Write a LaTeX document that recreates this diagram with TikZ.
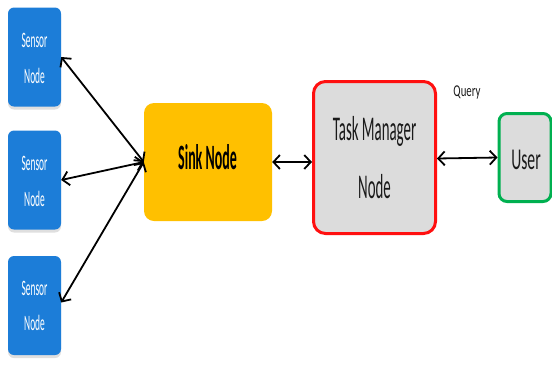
\documentclass[tikz,border=0pt]{standalone}
\usepackage{fontspec}
\setmainfont{Carlito}
\usetikzlibrary{arrows.meta,shadows}
\definecolor{sensorblue}{HTML}{1C7DD8}
\definecolor{sinkgold}{HTML}{FFC000}
\definecolor{boxgray}{HTML}{DCDCDC}
\definecolor{tmred}{HTML}{FF1010}
\definecolor{usergreen}{HTML}{00B050}
\definecolor{txtdark}{HTML}{1A1A1A}
\newcommand{\sq}[3]{\scalebox{#1}[#2]{#3}}
\begin{document}
\begin{tikzpicture}[x=1pt,y=-1pt,
  sensorbox/.style={draw=none,fill=sensorblue,rounded corners=6pt,minimum width=53pt,minimum height=99pt,inner sep=0pt,
    drop shadow={opacity=0.25,shadow xshift=0pt,shadow yshift=-3pt}},
  sinkbox/.style={fill=sinkgold,rounded corners=10pt,minimum width=128pt,minimum height=118pt,inner sep=0pt},
  tmbox/.style={fill=boxgray,draw=tmred,line width=3pt,rounded corners=12pt,minimum width=122pt,minimum height=152pt,inner sep=0pt},
  userbox/.style={fill=boxgray,draw=usergreen,line width=3pt,rounded corners=8pt,minimum width=52pt,minimum height=88pt,inner sep=0pt},
  sensortxt/.style={text=white,font=\fontsize{20}{24}\selectfont},
  bigtxt/.style={text=txtdark,font=\fontsize{31}{36}\selectfont},
  link/.style={line width=1.8pt,{Straight Barb[length=6.5pt,width=14pt]}-{Straight Barb[length=6.5pt,width=14pt]}}
]
\useasboundingbox (0,0) rectangle (552,368);
% sensor nodes
\node[sensorbox] (s1) at (34.5,57) {};
\node[sensorbox] (s2) at (34.5,180) {};
\node[sensorbox] (s3) at (34.5,305.5) {};
\node[sensortxt] (s1a) at (34.5,40) {\sq{0.47}{1.1}{Sensor}};
\node[sensortxt] (s1b) at (34.5,76) {\sq{0.47}{1.1}{Node}};
\node[sensortxt] (s2a) at (34.5,163) {\sq{0.47}{1.1}{Sensor}};
\node[sensortxt] (s2b) at (34.5,199) {\sq{0.47}{1.1}{Node}};
\node[sensortxt] (s3a) at (34.5,288) {\sq{0.47}{1.1}{Sensor}};
\node[sensortxt] (s3b) at (34.5,323) {\sq{0.47}{1.1}{Node}};
% sink
\node[sinkbox] (sink) at (208,162) {};
\node[text=black,font=\bfseries\fontsize{31}{36}\selectfont] (sinkt) at (207.5,157) {\sq{0.45}{1.15}{Sink Node}};
% task manager
\node[tmbox] (tm) at (374.5,157.5) {};
\node[bigtxt] (tma) at (374.5,131) {\sq{0.48}{1.12}{Task Manager}};
\node[bigtxt] (tmb) at (374.5,187) {\sq{0.48}{1.12}{Node}};
% user
\node[userbox] (user) at (525,157.5) {};
\node[bigtxt,font=\fontsize{27}{30}\selectfont] (usert) at (526,160) {\sq{0.58}{1.12}{User}};
% query
\node[text=txtdark,font=\fontsize{15}{18}\selectfont] (query) at (467,92) {\sq{0.72}{1.1}{Query}};
% connectors
\draw[link] (s1.east) -- (sink.west);
\draw[link] (s2.east) -- (sink.west);
\draw[link] ([yshift=3pt]s3.east) -- (sink.west);
\draw[link] (sink.east) -- (sink.east -| tm.west);
\draw[link] ([yshift=-1pt]tm.east) -- (user.west);
\end{tikzpicture}
\end{document}
